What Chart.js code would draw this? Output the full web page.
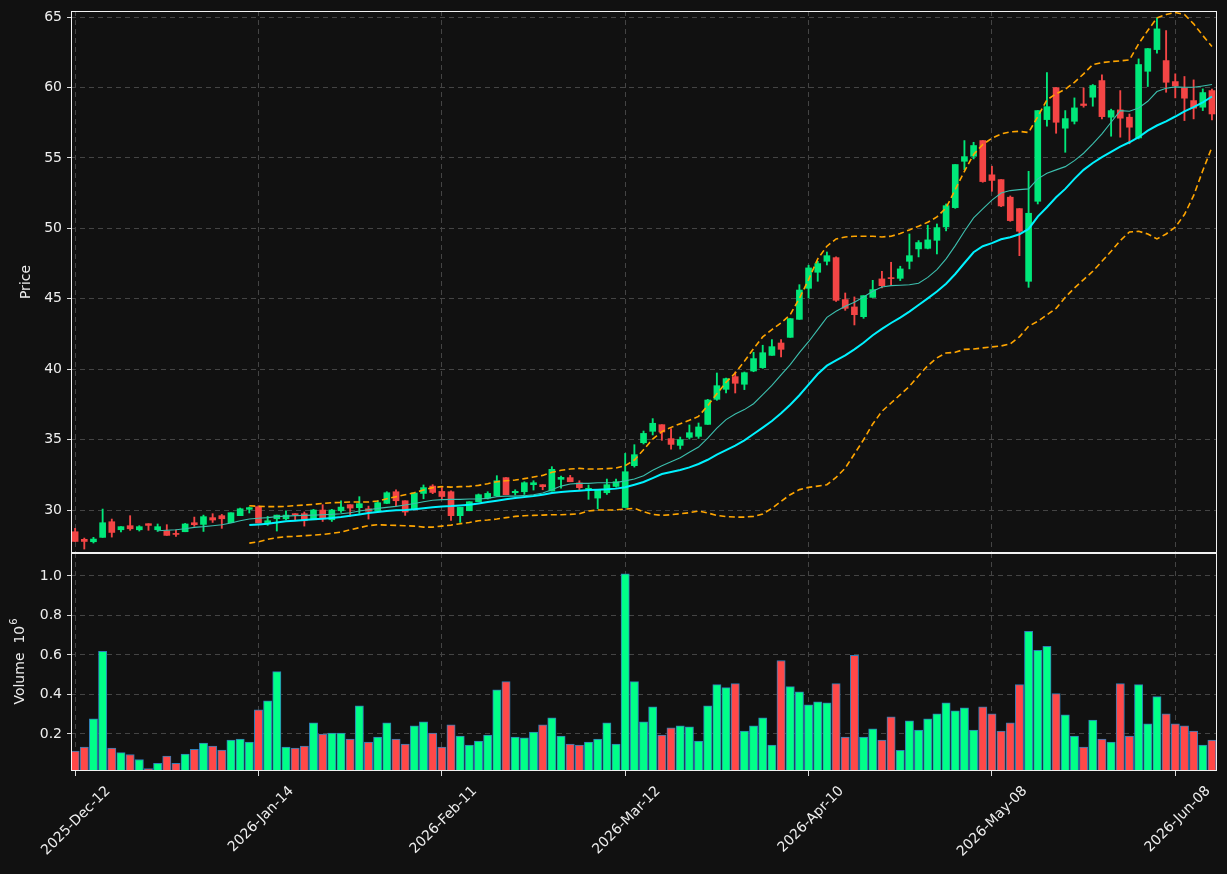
<!DOCTYPE html>
<html>
<head>
<meta charset="utf-8">
<script src="https://cdn.jsdelivr.net/npm/chart.js@4.4.1/dist/chart.umd.min.js"></script>
<style>
  html, body { margin: 0; padding: 0; background: #111111; }
  #wrap { position: relative; width: 1227px; height: 874px; }
  #price { position: absolute; left: 0; top: 0; }
  #volume { position: absolute; left: 0; top: 553px; }
</style>
</head>
<body>
<div id="wrap">
  <canvas id="price" width="1227" height="554"></canvas>
  <canvas id="volume" width="1227" height="321"></canvas>
</div>
<script>
// tick labels on the date axis (one every 20 sessions)
const dateTicks = [0, 20, 40, 60, 80, 100, 120];
const dateLabels = ['2025-Dec-12', '2026-Jan-14', '2026-Feb-11', '2026-Mar-12', '2026-Apr-10', '2026-May-08', '2026-Jun-08'];
const priceTicks = [30, 35, 40, 45, 50, 55, 60, 65];
const volumeTicks = [0.2, 0.4, 0.6, 0.8, 1.0];

// OHLC per session (125 sessions)
const opens = [
  28.46, 27.92, 27.75, 28.06, 29.17, 28.60, 28.89, 28.60, 29.03, 28.60,
  28.53, 28.34, 28.46, 29.10, 28.98, 29.46, 29.60, 29.10, 29.60, 30.05,
  30.24, 29.08, 29.38, 29.38, 29.74, 29.74, 29.31, 30.00, 29.31, 29.95,
  30.38, 30.17, 30.09, 29.93, 30.47, 31.30, 30.66, 30.09, 31.18, 31.70,
  31.32, 31.30, 29.60, 29.95, 30.59, 30.85, 31.02, 32.30, 31.23, 31.30,
  31.80, 31.80, 31.35, 32.18, 32.30, 31.92, 31.47, 30.85, 31.23, 31.68,
  30.18, 33.15, 34.78, 35.59, 36.06, 35.07, 34.59, 35.16, 35.23, 36.08,
  37.86, 38.57, 39.47, 38.93, 39.87, 40.11, 40.98, 41.86, 42.26, 43.54,
  45.74, 46.88, 47.66, 47.92, 44.94, 44.42, 43.73, 45.10, 46.41, 46.48,
  46.45, 47.66, 48.54, 48.58, 49.15, 50.10, 51.47, 54.76, 55.12, 56.23,
  53.80, 53.46, 52.21, 51.40, 46.24, 51.92, 57.72, 59.99, 57.11, 57.60,
  58.83, 59.31, 60.49, 57.89, 58.41, 57.89, 56.42, 61.15, 62.69, 61.91,
  60.42, 59.97, 59.07, 58.60, 59.78
];
const highs = [
  28.70, 28.01, 28.06, 30.07, 29.36, 28.82, 29.60, 28.89, 29.03, 29.01,
  28.96, 28.60, 29.05, 29.50, 29.64, 29.74, 29.69, 29.81, 30.14, 30.21,
  30.30, 29.55, 29.64, 29.95, 29.74, 29.86, 30.05, 30.38, 30.05, 30.66,
  30.38, 30.95, 30.28, 30.66, 31.30, 31.44, 30.66, 31.21, 31.78, 31.80,
  31.60, 31.37, 30.19, 30.59, 31.14, 31.30, 32.44, 32.30, 31.44, 32.01,
  32.08, 31.80, 33.08, 32.41, 32.46, 32.08, 31.78, 31.42, 32.20, 32.20,
  34.02, 34.64, 35.61, 36.49, 36.06, 35.78, 35.18, 36.04, 36.18, 37.86,
  39.73, 39.37, 39.80, 39.80, 41.20, 41.70, 42.10, 42.10, 43.59, 46.00,
  47.38, 47.66, 48.32, 47.97, 45.41, 45.13, 45.22, 46.31, 46.95, 47.59,
  47.31, 49.60, 49.13, 50.22, 50.31, 51.73, 54.53, 56.23, 56.11, 56.23,
  54.41, 53.46, 52.30, 51.40, 54.05, 58.36, 61.06, 59.99, 58.36, 59.26,
  59.97, 60.21, 60.89, 58.46, 59.78, 58.12, 62.03, 62.77, 64.94, 64.04,
  60.97, 60.78, 60.54, 59.90, 59.88
];
const lows = [
  27.77, 27.23, 27.66, 28.06, 28.08, 28.44, 28.56, 28.51, 28.56, 28.48,
  28.20, 28.13, 28.46, 28.84, 28.48, 29.12, 28.70, 29.10, 29.60, 29.79,
  29.08, 28.91, 28.51, 29.31, 29.31, 28.86, 29.31, 29.19, 29.19, 29.83,
  29.55, 29.76, 29.36, 29.93, 30.45, 30.31, 29.62, 30.09, 30.80, 31.16,
  30.80, 29.27, 29.12, 29.95, 30.59, 30.78, 30.97, 31.09, 31.07, 31.11,
  31.42, 31.44, 31.35, 31.56, 32.01, 31.42, 30.76, 30.09, 31.11, 31.63,
  30.18, 33.05, 34.69, 35.33, 34.95, 34.33, 34.33, 35.04, 35.09, 36.08,
  37.79, 38.31, 38.31, 38.55, 39.82, 40.06, 40.98, 40.87, 42.26, 43.54,
  45.05, 46.24, 47.40, 44.82, 44.18, 43.14, 43.61, 45.10, 45.77, 45.93,
  46.29, 47.12, 47.97, 48.54, 48.18, 49.82, 51.42, 54.17, 54.93, 53.27,
  52.63, 51.54, 50.50, 48.06, 45.81, 51.73, 57.25, 56.75, 55.40, 57.41,
  58.60, 58.67, 57.77, 56.54, 56.47, 56.00, 56.35, 60.07, 62.43, 59.66,
  59.26, 57.65, 57.77, 58.36, 57.70
];
const closes = [
  27.77, 27.77, 27.94, 29.10, 28.41, 28.82, 28.67, 28.82, 28.91, 28.82,
  28.20, 28.27, 29.01, 28.96, 29.53, 29.29, 29.38, 29.81, 30.09, 30.17,
  29.08, 29.24, 29.64, 29.64, 29.67, 29.24, 30.00, 29.38, 30.00, 30.21,
  30.14, 30.45, 29.91, 30.52, 31.23, 30.66, 29.86, 31.21, 31.59, 31.25,
  30.96, 29.60, 30.19, 30.59, 31.09, 31.18, 32.08, 31.09, 31.33, 31.94,
  31.94, 31.66, 32.89, 32.32, 32.01, 31.59, 31.52, 31.42, 31.80, 32.01,
  32.72, 33.93, 35.44, 36.16, 35.54, 34.66, 35.00, 35.49, 35.90, 37.81,
  38.83, 39.33, 39.00, 39.75, 40.75, 41.17, 41.60, 41.41, 43.59, 45.62,
  47.19, 47.50, 48.06, 44.89, 44.32, 43.87, 45.22, 45.65, 45.93, 46.43,
  47.12, 48.06, 48.99, 49.18, 50.05, 51.61, 54.53, 55.09, 55.88, 53.32,
  53.40, 51.59, 50.55, 49.79, 51.07, 58.36, 58.64, 57.53, 57.79, 58.55,
  58.72, 60.14, 57.93, 58.36, 57.82, 57.18, 61.63, 62.76, 64.16, 60.37,
  60.11, 59.24, 58.53, 59.64, 58.12
];
// volume, millions
const volumes = [
  0.113, 0.134, 0.277, 0.618, 0.129, 0.106, 0.096, 0.071, 0.025, 0.052,
  0.088, 0.052, 0.098, 0.123, 0.154, 0.139, 0.118, 0.169, 0.174, 0.159,
  0.322, 0.368, 0.516, 0.134, 0.129, 0.139, 0.256, 0.200, 0.205, 0.205,
  0.174, 0.343, 0.159, 0.185, 0.256, 0.174, 0.149, 0.241, 0.261, 0.205,
  0.134, 0.246, 0.190, 0.144, 0.164, 0.195, 0.424, 0.465, 0.185, 0.180,
  0.210, 0.246, 0.282, 0.190, 0.149, 0.144, 0.159, 0.174, 0.256, 0.149,
  1.011, 0.465, 0.261, 0.338, 0.195, 0.231, 0.241, 0.236, 0.164, 0.343,
  0.450, 0.435, 0.455, 0.215, 0.241, 0.282, 0.144, 0.572, 0.440, 0.414,
  0.348, 0.363, 0.358, 0.455, 0.185, 0.598, 0.185, 0.226, 0.169, 0.287,
  0.117, 0.266, 0.220, 0.277, 0.302, 0.358, 0.317, 0.333, 0.220, 0.338,
  0.302, 0.215, 0.256, 0.450, 0.720, 0.623, 0.644, 0.404, 0.297, 0.190,
  0.134, 0.271, 0.174, 0.159, 0.455, 0.190, 0.450, 0.251, 0.389, 0.302,
  0.251, 0.241, 0.215, 0.144, 0.169
];

// indicator lines; each starts at a given session
const MA10_START = 9;
const ma10 = [
  28.53, 28.56, 28.60, 28.67, 28.77, 28.82, 28.89, 28.96, 29.08, 29.24, 29.36, 29.42,
  29.46, 29.53, 29.57, 29.60, 29.62, 29.64, 29.67, 29.69, 29.74, 29.81, 29.93, 30.02,
  30.12, 30.19, 30.26, 30.36, 30.47, 30.59, 30.69, 30.74,
  30.76, 30.76, 30.78, 30.78, 30.83, 30.95, 30.99, 30.99, 31.02, 31.09, 31.21, 31.44,
  31.70, 31.85, 31.89, 31.89, 31.94, 31.94, 31.96, 32.07,
  32.20, 32.44, 32.82, 33.15, 33.43, 33.72, 34.10, 34.47, 35.11, 35.82, 36.42, 36.82,
  37.13, 37.55, 38.19, 38.85, 39.59, 40.32, 41.17, 41.95,
  42.81, 43.68, 44.11, 44.46, 44.75, 45.13, 45.53, 45.84, 45.93, 45.96, 46.00, 46.10,
  46.52, 47.07, 47.83, 48.77, 49.79, 50.74, 51.38, 52.00,
  52.51, 52.68, 52.75, 52.80, 53.51, 53.91, 54.15, 54.38, 54.81, 55.33, 55.99, 56.70,
  57.53, 58.36, 58.31, 58.55, 59.02, 59.71, 59.95, 60.04,
  60.02, 60.02, 60.11, 60.21
];
const MA20_START = 19;
const ma20 = [
  28.93, 28.98, 29.03, 29.12, 29.20, 29.24, 29.29, 29.34, 29.38, 29.43, 29.50, 29.60,
  29.69, 29.79, 29.86, 29.93, 29.98, 30.00, 30.05, 30.12, 30.19, 30.25,
  30.28, 30.33, 30.38, 30.47, 30.57, 30.66, 30.76, 30.85, 30.92, 30.99, 31.09, 31.21,
  31.28, 31.33, 31.37, 31.42, 31.44, 31.47, 31.52, 31.62,
  31.80, 31.99, 32.27, 32.56, 32.70, 32.84, 33.03, 33.27, 33.57, 33.93, 34.26, 34.57,
  34.95, 35.40, 35.85, 36.32, 36.87, 37.48, 38.15, 38.91,
  39.66, 40.25, 40.63, 40.98, 41.41, 41.88, 42.41, 42.86, 43.28, 43.66, 44.09, 44.56,
  45.03, 45.51, 46.07, 46.76, 47.54, 48.30, 48.73, 48.95,
  49.22, 49.37, 49.58, 49.96, 50.83, 51.50, 52.21, 52.80, 53.51, 54.15, 54.64, 55.05,
  55.43, 55.80, 56.11, 56.47, 56.94, 57.30, 57.60, 57.94,
  58.31, 58.60, 58.95, 59.36
];
const BAND_START = 19;
const upperBand = [
  30.31, 30.26, 30.24, 30.24, 30.26, 30.31, 30.36, 30.40, 30.47, 30.52, 30.54, 30.57,
  30.57, 30.57, 30.64, 30.80, 30.95, 31.09, 31.23, 31.42, 31.59, 31.66,
  31.63, 31.66, 31.68, 31.75, 31.87, 32.01, 32.08, 32.13, 32.23, 32.34, 32.46, 32.68,
  32.82, 32.91, 32.96, 32.91, 32.91, 32.94, 32.98, 33.15,
  33.55, 34.28, 35.04, 35.56, 35.87, 36.13, 36.37, 36.65, 37.41, 38.26, 39.07, 39.73,
  40.56, 41.46, 42.29, 42.81, 43.28, 43.87, 45.03, 46.36,
  47.83, 48.73, 49.25, 49.39, 49.44, 49.44, 49.44, 49.39, 49.44, 49.63, 49.89, 50.15,
  50.43, 50.81, 51.45, 52.75, 54.05, 55.24, 55.95, 56.40,
  56.70, 56.85, 56.89, 56.80, 57.93, 59.12, 59.55, 59.88, 60.37, 60.97, 61.63, 61.77,
  61.84, 61.89, 61.96, 63.10, 64.04, 64.94, 65.18, 65.32,
  65.18, 64.52, 63.69, 62.91
];
const lowerBand = [
  27.65, 27.75, 27.92, 28.04, 28.11, 28.13, 28.18, 28.22, 28.27, 28.34, 28.44, 28.60,
  28.75, 28.89, 28.96, 28.93, 28.91, 28.89, 28.86, 28.79, 28.79, 28.86,
  28.93, 29.03, 29.12, 29.24, 29.29, 29.36, 29.46, 29.55, 29.60, 29.62, 29.64, 29.67,
  29.67, 29.69, 29.74, 29.93, 30.00, 30.00, 30.01, 30.07,
  30.12, 29.88, 29.69, 29.62, 29.67, 29.74, 29.81, 29.93, 29.79, 29.62, 29.53, 29.50,
  29.50, 29.55, 29.72, 30.12, 30.62, 31.09, 31.45, 31.61,
  31.70, 31.80, 32.32, 32.98, 33.98, 34.99, 36.11, 37.01, 37.60, 38.19, 38.78, 39.54,
  40.25, 40.80, 41.15, 41.20, 41.41, 41.43, 41.51, 41.58,
  41.65, 41.80, 42.30, 43.05, 43.40, 43.85, 44.32, 45.10, 45.77, 46.36, 46.95, 47.66,
  48.37, 49.13, 49.74, 49.79, 49.60, 49.25, 49.60, 50.08,
  50.98, 52.32, 54.10, 55.76
];

const UP = '#00e87a';
const DOWN = '#f44545';
const VOL_UP = '#00ff88';
const VOL_DOWN = '#ff4848';
const TEXT = '#eeeeee';
const GRID = '#444444';
const FONT = { family: 'DejaVu Sans', size: 14 };

const up = opens.map((o, i) => closes[i] >= o);

function points(values, start) {
    return values.map((v, k) => ({ x: start + k, y: v }));
}

// keep the plot box where the panel sits, not where chart.js wants label room
function noPad(s) {
    s.paddingTop = 0;
    s.paddingBottom = 0;
    s.paddingLeft = 0;
    s.paddingRight = 0;
}

// white frame round each panel
const frame = {
    id: 'frame',
    afterDraw(chart) {
        const a = chart.chartArea;
        const c = chart.ctx;
        c.save();
        c.strokeStyle = '#f2f2f2';
        c.lineWidth = 1;
        c.strokeRect(Math.round(a.left) + 0.5, Math.round(a.top) + 0.5,
                     Math.round(a.right - a.left) - 1, Math.round(a.bottom - a.top) - 1);
        c.restore();
    }
};

// "Volume  10^6" with a real superscript
const volTitle = {
    id: 'volTitle',
    afterDraw(chart) {
        const a = chart.chartArea;
        const c = chart.ctx;
        const main = 'Volume  10';
        c.save();
        c.fillStyle = TEXT;
        c.font = '14px "DejaVu Sans"';
        const w1 = c.measureText(main).width;
        c.font = '10px "DejaVu Sans"';
        const w2 = c.measureText('6').width;
        c.translate(20, (a.top + a.bottom) / 2);
        c.rotate(-Math.PI / 2);
        c.textBaseline = 'middle';
        c.textAlign = 'left';
        c.font = '14px "DejaVu Sans"';
        c.fillText(main, -(w1 + w2) / 2, 0);
        c.font = '10px "DejaVu Sans"';
        c.fillText('6', -(w1 + w2) / 2 + w1 + 1, -6);
        c.restore();
    }
};

const xRange = { min: -0.45, max: 124.55 };

new Chart(document.getElementById('price'), {
    type: 'bar',
    data: {
        datasets: [
            {
                type: 'line', label: 'MA10', data: points(ma10, MA10_START),
                borderColor: '#3cbfae', borderWidth: 1.1, pointRadius: 0, tension: 0, order: 0
            },
            {
                type: 'line', label: 'MA20', data: points(ma20, MA20_START),
                borderColor: '#00f2ff', borderWidth: 2, pointRadius: 0, tension: 0, order: 0
            },
            {
                type: 'line', label: 'Upper', data: points(upperBand, BAND_START),
                borderColor: '#ffa500', borderWidth: 1.6, borderDash: [6, 3.5], pointRadius: 0, tension: 0, order: 0
            },
            {
                type: 'line', label: 'Lower', data: points(lowerBand, BAND_START),
                borderColor: '#ffa500', borderWidth: 1.6, borderDash: [6, 3.5], pointRadius: 0, tension: 0, order: 0
            },
            {
                label: 'Wick',
                data: lows.map((l, i) => ({ x: i, y: [l, highs[i]] })),
                backgroundColor: up.map(u => u ? UP : DOWN),
                barThickness: 1.2, grouped: false, order: 2
            },
            {
                label: 'Body',
                data: opens.map((o, i) => ({ x: i, y: [o, closes[i]] })),
                backgroundColor: up.map(u => u ? UP : DOWN),
                barThickness: 6, minBarLength: 1, grouped: false, order: 1
            }
        ]
    },
    options: {
        responsive: false,
        animation: false,
        layout: { padding: { top: 11, right: 10, bottom: 1, left: 0 } },
        plugins: { legend: { display: false }, tooltip: { enabled: false } },
        scales: {
            x: {
                type: 'linear', min: xRange.min, max: xRange.max, offset: false,
                afterBuildTicks: s => { s.ticks = dateTicks.map(v => ({ value: v })); },
                afterFit: s => { s.height = 0; noPad(s); },
                ticks: { display: false },
                grid: { color: GRID, drawTicks: false, offset: false },
                border: { display: false, dash: [5, 4] }
            },
            y: {
                min: 26.95, max: 65.43,
                afterBuildTicks: s => { s.ticks = priceTicks.map(v => ({ value: v })); },
                afterFit: s => { s.width = 71; noPad(s); },
                ticks: { color: TEXT, font: FONT, padding: 5 },
                grid: { color: GRID, tickColor: '#dddddd', tickLength: 4 },
                border: { display: false, dash: [5, 4] },
                title: { display: true, text: 'Price', color: TEXT, font: FONT, padding: { top: 18, bottom: 0 } }
            }
        }
    },
    plugins: [frame]
});

new Chart(document.getElementById('volume'), {
    type: 'bar',
    data: {
        datasets: [{
            label: 'Volume',
            data: volumes.map((v, i) => ({ x: i, y: v })),
            backgroundColor: up.map(u => u ? VOL_UP : VOL_DOWN),
            borderColor: '#2f7fb8', borderWidth: 1,
            barThickness: 8.3, grouped: false
        }]
    },
    options: {
        responsive: false,
        animation: false,
        layout: { padding: { top: 0, right: 10, bottom: 0, left: 0 } },
        plugins: { legend: { display: false }, tooltip: { enabled: false } },
        scales: {
            x: {
                type: 'linear', min: xRange.min, max: xRange.max, offset: false,
                afterBuildTicks: s => { s.ticks = dateTicks.map(v => ({ value: v })); },
                afterFit: s => { s.height = 103; noPad(s); },
                ticks: {
                    color: TEXT, font: FONT, minRotation: 45, maxRotation: 45,
                    padding: 7, labelOffset: 33,
                    callback: v => dateLabels[dateTicks.indexOf(v)]
                },
                grid: { color: GRID, tickColor: '#dddddd', tickLength: 5, offset: false },
                border: { display: false, dash: [5, 4] }
            },
            y: {
                min: 0.0127, max: 1.116,
                afterBuildTicks: s => { s.ticks = volumeTicks.map(v => ({ value: v })); },
                afterFit: s => { s.width = 71; noPad(s); },
                ticks: { color: TEXT, font: FONT, padding: 5, callback: v => v.toFixed(1) },
                grid: { color: GRID, tickColor: '#dddddd', tickLength: 4 },
                border: { display: false, dash: [5, 4] }
            }
        }
    },
    plugins: [frame, volTitle]
});
</script>
</body>
</html>
